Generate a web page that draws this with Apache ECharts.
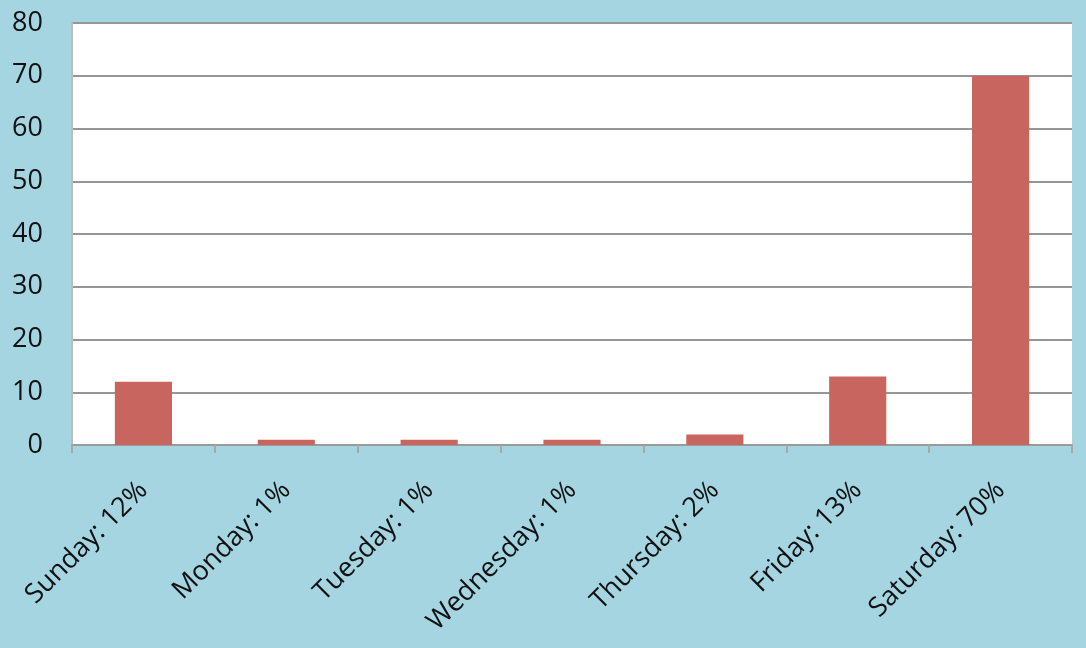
<!DOCTYPE html>
<html>
<head>
<meta charset="utf-8">
<script src="https://cdn.jsdelivr.net/npm/echarts@6/dist/echarts.min.js"></script>
<style>
html,body{margin:0;padding:0;background:#A6D5E2;}
#c{width:1086px;height:648px;}
</style>
</head>
<body>
<div id="c"></div>
<script>
const categories = ['Sunday: 12%','Monday: 1%','Tuesday: 1%','Wednesday: 1%','Thursday: 2%','Friday: 13%','Saturday: 70%'];
const values = [12, 1, 1, 1, 2, 13, 70];
const yTicks = [0,10,20,30,40,50,60,70,80];

const chart = echarts.init(document.getElementById('c'));
chart.setOption({
  backgroundColor: '#A6D5E2',
  animation: false,
  grid: {left: 72, right: 14, top: 23, bottom: 203, show: true, backgroundColor: '#ffffff', borderWidth: 0},
  xAxis: {
    type: 'category',
    data: categories,
    axisLine: {lineStyle: {color: '#9a9a9a', width: 2}},
    axisTick: {show: true, length: 8, lineStyle: {color: '#a8a8a8', width: 2}},
    axisLabel: {rotate: 45, margin: 41, fontSize: 27, color: '#111', fontFamily: 'Open Sans'}
  },
  yAxis: {
    type: 'value', min: 0, max: 80, interval: 10,
    axisLine: {show: true, lineStyle: {color: '#bdbdbd', width: 2}},
    axisTick: {show: false},
    splitLine: {lineStyle: {color: '#969696', width: 2}},
    axisLabel: {margin: 29, fontSize: 27, color: '#111', fontFamily: 'Open Sans',
      formatter: v => yTicks.includes(v) ? String(v) : ''}
  },
  series: [{
    type: 'bar',
    data: values,
    barWidth: '40%',
    itemStyle: {color: '#C9655F'}
  }]
});
</script>
</body>
</html>
